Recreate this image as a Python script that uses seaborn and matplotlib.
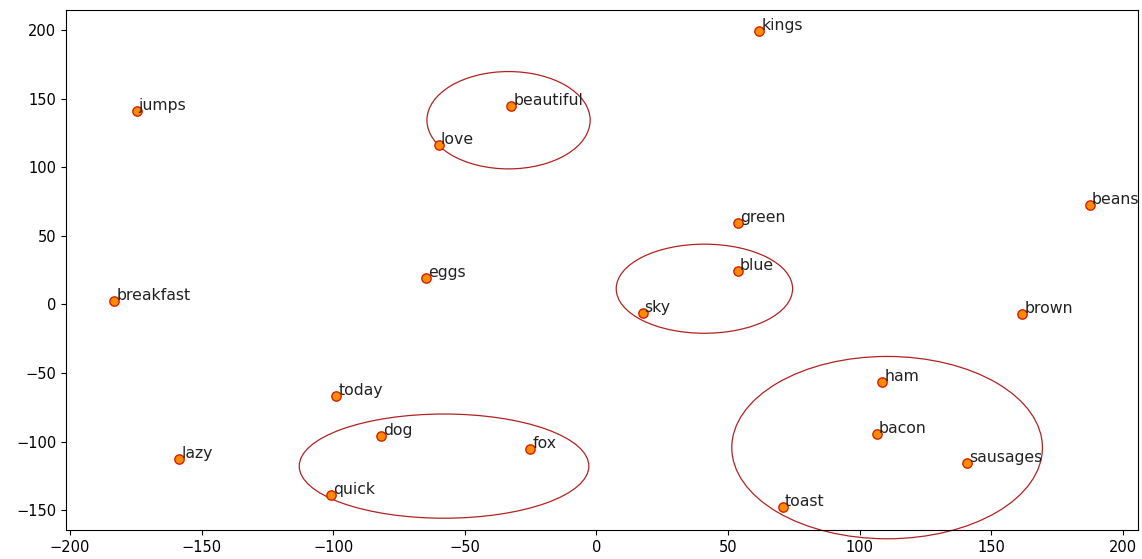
import pandas as pd
import matplotlib.pyplot as plt
import seaborn as sns
from matplotlib.patches import Ellipse

words = ["kings", "jumps", "beautiful", "love", "beans", "green", "blue", "eggs",
         "breakfast", "sky", "brown", "ham", "today", "bacon", "dog", "fox",
         "lazy", "sausages", "quick", "toast"]
xs = [61.9, -174.7, -32.3, -60.0, 187.3, 53.6, 53.6, -64.6,
      -183.1, 17.5, 161.8, 108.6, -98.8, 106.4, -81.7, -25.1,
      -158.4, 140.6, -100.7, 70.7]
ys = [199.3, 141.0, 144.5, 116.2, 72.4, 59.3, 24.3, 19.2,
      2.4, -6.4, -7.1, -56.7, -66.9, -94.6, -96.0, -105.5,
      -112.8, -115.7, -139.0, -147.8]

# clusters circled on the plot: centre x, centre y, width, height
circle_x = [-33.4, 41.0, 110.4, -57.9]
circle_y = [134.4, 11.5, -104.4, -117.9]
circle_w = [62, 67, 118, 110]
circle_h = [71, 65, 133, 76]

df = pd.DataFrame({"word": words, "x": xs, "y": ys})

fig = plt.figure(figsize=(11.42, 5.59), dpi=100)
ax = fig.add_subplot(111)
fig.subplots_adjust(left=66 / 1142, right=1138 / 1142, bottom=1 - 530 / 559, top=1 - 10 / 559)

sns.scatterplot(data=df, x="x", y="y", ax=ax, color="#ff8c00", edgecolor="#d62000",
                s=45, linewidth=1, zorder=3)

for w, x, y in zip(df["word"], df["x"], df["y"]):
    ax.annotate(w, xy=(x, y), xytext=(1.5, 1), textcoords="offset points", fontsize=11.3,
                color="#222222", zorder=4)

for cx, cy, cw, ch in zip(circle_x, circle_y, circle_w, circle_h):
    ax.add_patch(Ellipse((cx, cy), cw, ch, fill=False, edgecolor="#b22222",
                         linewidth=0.9, clip_on=False))

ax.set_xlabel("")
ax.set_ylabel("")
ax.tick_params(labelsize=10.5)
ax.set_xticks([-200, -150, -100, -50, 0, 50, 100, 150, 200])
ax.set_yticks([-150, -100, -50, 0, 50, 100, 150, 200])
ax.set_xlim(-201.5, 205.7)
ax.set_ylim(-164.5, 214.8)

plt.savefig("out.png", dpi=100)
